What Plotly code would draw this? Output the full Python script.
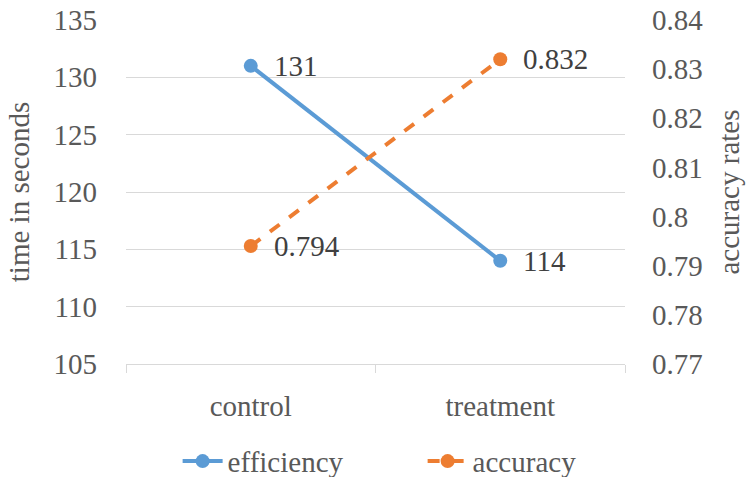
import plotly.graph_objects as go

categories = ["control", "treatment"]
efficiency = [131, 114]
accuracy = [0.794, 0.832]
eff_labels = ["131", "114"]
acc_labels = ["0.794", "0.832"]

FONT = "Liberation Serif, Times New Roman, serif"
GRAY = "#595959"
FS = 29
fig = go.Figure()
fig.add_trace(go.Scatter(
    x=categories, y=efficiency, name="efficiency", mode="lines+markers",
    line=dict(color="#5B9BD5", width=4), marker=dict(size=14, color="#5B9BD5"),
))
fig.add_trace(go.Scatter(
    x=categories, y=accuracy, name="accuracy", mode="lines+markers", yaxis="y2",
    line=dict(color="#ED7D31", width=4, dash="dash"), marker=dict(size=14, color="#ED7D31"),
))
for xs, ys, labs, yref in [(categories, efficiency, eff_labels, "y"), (categories, accuracy, acc_labels, "y2")]:
    for xv, yv, lab in zip(xs, ys, labs):
        fig.add_annotation(x=xv, y=yv, xref="x", yref=yref, text=lab, showarrow=False,
                           xanchor="left", yanchor="middle", xshift=21,
                           font=dict(family=FONT, size=FS, color="#404040"))
fig.update_layout(
    width=752, height=477,
    margin=dict(l=126, r=127, t=20, b=113, autoexpand=False),
    paper_bgcolor="white", plot_bgcolor="white",
    font=dict(family=FONT, color=GRAY, size=FS),
    xaxis=dict(type="category", range=[-0.5, 1.5], tickson="boundaries", ticks="outside",
               ticklen=8, tickcolor="#d9d9d9", showline=True, linecolor="#d9d9d9", linewidth=1,
               showgrid=False, automargin=False, ticklabelstandoff=16,
               tickfont=dict(family=FONT, size=FS, color=GRAY)),
    yaxis=dict(range=[105, 135], dtick=5, showgrid=True, gridcolor="#d9d9d9", gridwidth=1,
               zeroline=False, showline=False, automargin=False, ticklabelstandoff=28,
               title=dict(text="time in seconds", font=dict(family=FONT, size=FS, color=GRAY), standoff=15),
               tickfont=dict(family=FONT, size=FS, color=GRAY)),
    yaxis2=dict(range=[0.77, 0.84], dtick=0.01, overlaying="y", side="right", showgrid=False,
                zeroline=False, showline=False, tickformat="~g", automargin=False, ticklabelstandoff=26,
                title=dict(text="accuracy rates", font=dict(family=FONT, size=FS, color=GRAY), standoff=16),
                tickfont=dict(family=FONT, size=FS, color=GRAY)),
    legend=dict(orientation="h", xref="container", x=0.562, xanchor="center", yref="container",
                y=0.033, yanchor="middle",
                font=dict(family=FONT, size=FS, color=GRAY), itemwidth=40,
                entrywidth=190, entrywidthmode="pixels"),
    showlegend=True,
)
fig.write_html("out.html")
